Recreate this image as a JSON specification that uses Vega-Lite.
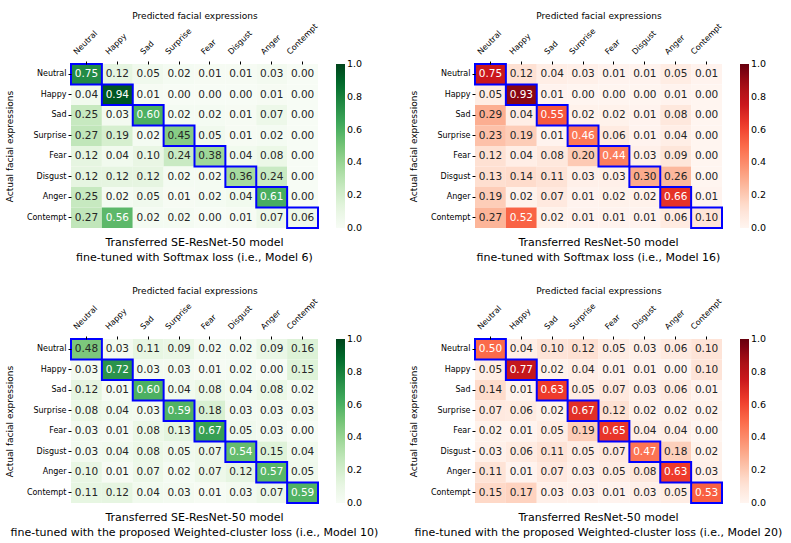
{
  "$schema": "https://vega.github.io/schema/vega-lite/v6.json",
  "padding": {"left": 5, "top": 11, "right": 5, "bottom": 5},
  "background": "white",
  "resolve": {"scale": {"color": "independent"}, "legend": {"color": "independent"}},
  "config": {
    "font": "DejaVu Sans",
    "view": {"stroke": null},
    "axis": {"domain": false, "ticks": true, "tickSize": 3, "tickColor": "#000", "labelFontSize": 8, "labelColor": "#000", "titleFontSize": 9, "titleFontWeight": "normal", "titleColor": "#000", "labelPadding": 2},
    "axisX": {"labelAngle": -45, "labelAlign": "left", "labelBaseline": "middle", "titlePadding": 2, "labelPadding": 8},
    "axisY": {"titlePadding": 12},
    "legend": {"orient": "right", "offset": 18, "gradientLength": 164, "gradientThickness": 9, "labelFontSize": 9.5, "labelColor": "#000", "labelOffset": 5, "labelBaseline": "middle", "gradientStrokeWidth": 0},
    "title": {"orient": "bottom", "frame": "group", "anchor": "middle", "fontSize": 11, "fontWeight": "normal", "color": "#000", "offset": 4, "lineHeight": 15}
  },
  "datasets": {
    "m6": [
      {"actual": "Neutral", "predicted": "Neutral", "value": 0.75}, {"actual": "Neutral", "predicted": "Happy", "value": 0.12}, {"actual": "Neutral", "predicted": "Sad", "value": 0.05}, {"actual": "Neutral", "predicted": "Surprise", "value": 0.02}, {"actual": "Neutral", "predicted": "Fear", "value": 0.01}, {"actual": "Neutral", "predicted": "Disgust", "value": 0.01}, {"actual": "Neutral", "predicted": "Anger", "value": 0.03}, {"actual": "Neutral", "predicted": "Contempt", "value": 0.0},
      {"actual": "Happy", "predicted": "Neutral", "value": 0.04}, {"actual": "Happy", "predicted": "Happy", "value": 0.94}, {"actual": "Happy", "predicted": "Sad", "value": 0.01}, {"actual": "Happy", "predicted": "Surprise", "value": 0.0}, {"actual": "Happy", "predicted": "Fear", "value": 0.0}, {"actual": "Happy", "predicted": "Disgust", "value": 0.0}, {"actual": "Happy", "predicted": "Anger", "value": 0.01}, {"actual": "Happy", "predicted": "Contempt", "value": 0.0},
      {"actual": "Sad", "predicted": "Neutral", "value": 0.25}, {"actual": "Sad", "predicted": "Happy", "value": 0.03}, {"actual": "Sad", "predicted": "Sad", "value": 0.60}, {"actual": "Sad", "predicted": "Surprise", "value": 0.02}, {"actual": "Sad", "predicted": "Fear", "value": 0.02}, {"actual": "Sad", "predicted": "Disgust", "value": 0.01}, {"actual": "Sad", "predicted": "Anger", "value": 0.07}, {"actual": "Sad", "predicted": "Contempt", "value": 0.0},
      {"actual": "Surprise", "predicted": "Neutral", "value": 0.27}, {"actual": "Surprise", "predicted": "Happy", "value": 0.19}, {"actual": "Surprise", "predicted": "Sad", "value": 0.02}, {"actual": "Surprise", "predicted": "Surprise", "value": 0.45}, {"actual": "Surprise", "predicted": "Fear", "value": 0.05}, {"actual": "Surprise", "predicted": "Disgust", "value": 0.01}, {"actual": "Surprise", "predicted": "Anger", "value": 0.02}, {"actual": "Surprise", "predicted": "Contempt", "value": 0.0},
      {"actual": "Fear", "predicted": "Neutral", "value": 0.12}, {"actual": "Fear", "predicted": "Happy", "value": 0.04}, {"actual": "Fear", "predicted": "Sad", "value": 0.10}, {"actual": "Fear", "predicted": "Surprise", "value": 0.24}, {"actual": "Fear", "predicted": "Fear", "value": 0.38}, {"actual": "Fear", "predicted": "Disgust", "value": 0.04}, {"actual": "Fear", "predicted": "Anger", "value": 0.08}, {"actual": "Fear", "predicted": "Contempt", "value": 0.0},
      {"actual": "Disgust", "predicted": "Neutral", "value": 0.12}, {"actual": "Disgust", "predicted": "Happy", "value": 0.12}, {"actual": "Disgust", "predicted": "Sad", "value": 0.12}, {"actual": "Disgust", "predicted": "Surprise", "value": 0.02}, {"actual": "Disgust", "predicted": "Fear", "value": 0.02}, {"actual": "Disgust", "predicted": "Disgust", "value": 0.36}, {"actual": "Disgust", "predicted": "Anger", "value": 0.24}, {"actual": "Disgust", "predicted": "Contempt", "value": 0.0},
      {"actual": "Anger", "predicted": "Neutral", "value": 0.25}, {"actual": "Anger", "predicted": "Happy", "value": 0.02}, {"actual": "Anger", "predicted": "Sad", "value": 0.05}, {"actual": "Anger", "predicted": "Surprise", "value": 0.01}, {"actual": "Anger", "predicted": "Fear", "value": 0.02}, {"actual": "Anger", "predicted": "Disgust", "value": 0.04}, {"actual": "Anger", "predicted": "Anger", "value": 0.61}, {"actual": "Anger", "predicted": "Contempt", "value": 0.0},
      {"actual": "Contempt", "predicted": "Neutral", "value": 0.27}, {"actual": "Contempt", "predicted": "Happy", "value": 0.56}, {"actual": "Contempt", "predicted": "Sad", "value": 0.02}, {"actual": "Contempt", "predicted": "Surprise", "value": 0.02}, {"actual": "Contempt", "predicted": "Fear", "value": 0.0}, {"actual": "Contempt", "predicted": "Disgust", "value": 0.01}, {"actual": "Contempt", "predicted": "Anger", "value": 0.07}, {"actual": "Contempt", "predicted": "Contempt", "value": 0.06}
    ],
    "m16": [
      {"actual": "Neutral", "predicted": "Neutral", "value": 0.75}, {"actual": "Neutral", "predicted": "Happy", "value": 0.12}, {"actual": "Neutral", "predicted": "Sad", "value": 0.04}, {"actual": "Neutral", "predicted": "Surprise", "value": 0.03}, {"actual": "Neutral", "predicted": "Fear", "value": 0.01}, {"actual": "Neutral", "predicted": "Disgust", "value": 0.01}, {"actual": "Neutral", "predicted": "Anger", "value": 0.05}, {"actual": "Neutral", "predicted": "Contempt", "value": 0.01},
      {"actual": "Happy", "predicted": "Neutral", "value": 0.05}, {"actual": "Happy", "predicted": "Happy", "value": 0.93}, {"actual": "Happy", "predicted": "Sad", "value": 0.01}, {"actual": "Happy", "predicted": "Surprise", "value": 0.0}, {"actual": "Happy", "predicted": "Fear", "value": 0.0}, {"actual": "Happy", "predicted": "Disgust", "value": 0.0}, {"actual": "Happy", "predicted": "Anger", "value": 0.01}, {"actual": "Happy", "predicted": "Contempt", "value": 0.0},
      {"actual": "Sad", "predicted": "Neutral", "value": 0.29}, {"actual": "Sad", "predicted": "Happy", "value": 0.04}, {"actual": "Sad", "predicted": "Sad", "value": 0.55}, {"actual": "Sad", "predicted": "Surprise", "value": 0.02}, {"actual": "Sad", "predicted": "Fear", "value": 0.02}, {"actual": "Sad", "predicted": "Disgust", "value": 0.01}, {"actual": "Sad", "predicted": "Anger", "value": 0.08}, {"actual": "Sad", "predicted": "Contempt", "value": 0.0},
      {"actual": "Surprise", "predicted": "Neutral", "value": 0.23}, {"actual": "Surprise", "predicted": "Happy", "value": 0.19}, {"actual": "Surprise", "predicted": "Sad", "value": 0.01}, {"actual": "Surprise", "predicted": "Surprise", "value": 0.46}, {"actual": "Surprise", "predicted": "Fear", "value": 0.06}, {"actual": "Surprise", "predicted": "Disgust", "value": 0.01}, {"actual": "Surprise", "predicted": "Anger", "value": 0.04}, {"actual": "Surprise", "predicted": "Contempt", "value": 0.0},
      {"actual": "Fear", "predicted": "Neutral", "value": 0.12}, {"actual": "Fear", "predicted": "Happy", "value": 0.04}, {"actual": "Fear", "predicted": "Sad", "value": 0.08}, {"actual": "Fear", "predicted": "Surprise", "value": 0.20}, {"actual": "Fear", "predicted": "Fear", "value": 0.44}, {"actual": "Fear", "predicted": "Disgust", "value": 0.03}, {"actual": "Fear", "predicted": "Anger", "value": 0.09}, {"actual": "Fear", "predicted": "Contempt", "value": 0.0},
      {"actual": "Disgust", "predicted": "Neutral", "value": 0.13}, {"actual": "Disgust", "predicted": "Happy", "value": 0.14}, {"actual": "Disgust", "predicted": "Sad", "value": 0.11}, {"actual": "Disgust", "predicted": "Surprise", "value": 0.03}, {"actual": "Disgust", "predicted": "Fear", "value": 0.03}, {"actual": "Disgust", "predicted": "Disgust", "value": 0.30}, {"actual": "Disgust", "predicted": "Anger", "value": 0.26}, {"actual": "Disgust", "predicted": "Contempt", "value": 0.0},
      {"actual": "Anger", "predicted": "Neutral", "value": 0.19}, {"actual": "Anger", "predicted": "Happy", "value": 0.02}, {"actual": "Anger", "predicted": "Sad", "value": 0.07}, {"actual": "Anger", "predicted": "Surprise", "value": 0.01}, {"actual": "Anger", "predicted": "Fear", "value": 0.02}, {"actual": "Anger", "predicted": "Disgust", "value": 0.02}, {"actual": "Anger", "predicted": "Anger", "value": 0.66}, {"actual": "Anger", "predicted": "Contempt", "value": 0.01},
      {"actual": "Contempt", "predicted": "Neutral", "value": 0.27}, {"actual": "Contempt", "predicted": "Happy", "value": 0.52}, {"actual": "Contempt", "predicted": "Sad", "value": 0.02}, {"actual": "Contempt", "predicted": "Surprise", "value": 0.01}, {"actual": "Contempt", "predicted": "Fear", "value": 0.01}, {"actual": "Contempt", "predicted": "Disgust", "value": 0.01}, {"actual": "Contempt", "predicted": "Anger", "value": 0.06}, {"actual": "Contempt", "predicted": "Contempt", "value": 0.10}
    ],
    "m10": [
      {"actual": "Neutral", "predicted": "Neutral", "value": 0.48}, {"actual": "Neutral", "predicted": "Happy", "value": 0.03}, {"actual": "Neutral", "predicted": "Sad", "value": 0.11}, {"actual": "Neutral", "predicted": "Surprise", "value": 0.09}, {"actual": "Neutral", "predicted": "Fear", "value": 0.02}, {"actual": "Neutral", "predicted": "Disgust", "value": 0.02}, {"actual": "Neutral", "predicted": "Anger", "value": 0.09}, {"actual": "Neutral", "predicted": "Contempt", "value": 0.16},
      {"actual": "Happy", "predicted": "Neutral", "value": 0.03}, {"actual": "Happy", "predicted": "Happy", "value": 0.72}, {"actual": "Happy", "predicted": "Sad", "value": 0.03}, {"actual": "Happy", "predicted": "Surprise", "value": 0.03}, {"actual": "Happy", "predicted": "Fear", "value": 0.01}, {"actual": "Happy", "predicted": "Disgust", "value": 0.02}, {"actual": "Happy", "predicted": "Anger", "value": 0.0}, {"actual": "Happy", "predicted": "Contempt", "value": 0.15},
      {"actual": "Sad", "predicted": "Neutral", "value": 0.12}, {"actual": "Sad", "predicted": "Happy", "value": 0.01}, {"actual": "Sad", "predicted": "Sad", "value": 0.60}, {"actual": "Sad", "predicted": "Surprise", "value": 0.04}, {"actual": "Sad", "predicted": "Fear", "value": 0.08}, {"actual": "Sad", "predicted": "Disgust", "value": 0.04}, {"actual": "Sad", "predicted": "Anger", "value": 0.08}, {"actual": "Sad", "predicted": "Contempt", "value": 0.02},
      {"actual": "Surprise", "predicted": "Neutral", "value": 0.08}, {"actual": "Surprise", "predicted": "Happy", "value": 0.04}, {"actual": "Surprise", "predicted": "Sad", "value": 0.03}, {"actual": "Surprise", "predicted": "Surprise", "value": 0.59}, {"actual": "Surprise", "predicted": "Fear", "value": 0.18}, {"actual": "Surprise", "predicted": "Disgust", "value": 0.03}, {"actual": "Surprise", "predicted": "Anger", "value": 0.03}, {"actual": "Surprise", "predicted": "Contempt", "value": 0.03},
      {"actual": "Fear", "predicted": "Neutral", "value": 0.03}, {"actual": "Fear", "predicted": "Happy", "value": 0.01}, {"actual": "Fear", "predicted": "Sad", "value": 0.08}, {"actual": "Fear", "predicted": "Surprise", "value": 0.13}, {"actual": "Fear", "predicted": "Fear", "value": 0.67}, {"actual": "Fear", "predicted": "Disgust", "value": 0.05}, {"actual": "Fear", "predicted": "Anger", "value": 0.03}, {"actual": "Fear", "predicted": "Contempt", "value": 0.0},
      {"actual": "Disgust", "predicted": "Neutral", "value": 0.03}, {"actual": "Disgust", "predicted": "Happy", "value": 0.04}, {"actual": "Disgust", "predicted": "Sad", "value": 0.08}, {"actual": "Disgust", "predicted": "Surprise", "value": 0.05}, {"actual": "Disgust", "predicted": "Fear", "value": 0.07}, {"actual": "Disgust", "predicted": "Disgust", "value": 0.54}, {"actual": "Disgust", "predicted": "Anger", "value": 0.15}, {"actual": "Disgust", "predicted": "Contempt", "value": 0.04},
      {"actual": "Anger", "predicted": "Neutral", "value": 0.10}, {"actual": "Anger", "predicted": "Happy", "value": 0.01}, {"actual": "Anger", "predicted": "Sad", "value": 0.07}, {"actual": "Anger", "predicted": "Surprise", "value": 0.02}, {"actual": "Anger", "predicted": "Fear", "value": 0.07}, {"actual": "Anger", "predicted": "Disgust", "value": 0.12}, {"actual": "Anger", "predicted": "Anger", "value": 0.57}, {"actual": "Anger", "predicted": "Contempt", "value": 0.05},
      {"actual": "Contempt", "predicted": "Neutral", "value": 0.11}, {"actual": "Contempt", "predicted": "Happy", "value": 0.12}, {"actual": "Contempt", "predicted": "Sad", "value": 0.04}, {"actual": "Contempt", "predicted": "Surprise", "value": 0.03}, {"actual": "Contempt", "predicted": "Fear", "value": 0.01}, {"actual": "Contempt", "predicted": "Disgust", "value": 0.03}, {"actual": "Contempt", "predicted": "Anger", "value": 0.07}, {"actual": "Contempt", "predicted": "Contempt", "value": 0.59}
    ],
    "m20": [
      {"actual": "Neutral", "predicted": "Neutral", "value": 0.50}, {"actual": "Neutral", "predicted": "Happy", "value": 0.04}, {"actual": "Neutral", "predicted": "Sad", "value": 0.10}, {"actual": "Neutral", "predicted": "Surprise", "value": 0.12}, {"actual": "Neutral", "predicted": "Fear", "value": 0.05}, {"actual": "Neutral", "predicted": "Disgust", "value": 0.03}, {"actual": "Neutral", "predicted": "Anger", "value": 0.06}, {"actual": "Neutral", "predicted": "Contempt", "value": 0.10},
      {"actual": "Happy", "predicted": "Neutral", "value": 0.05}, {"actual": "Happy", "predicted": "Happy", "value": 0.77}, {"actual": "Happy", "predicted": "Sad", "value": 0.02}, {"actual": "Happy", "predicted": "Surprise", "value": 0.04}, {"actual": "Happy", "predicted": "Fear", "value": 0.01}, {"actual": "Happy", "predicted": "Disgust", "value": 0.01}, {"actual": "Happy", "predicted": "Anger", "value": 0.0}, {"actual": "Happy", "predicted": "Contempt", "value": 0.10},
      {"actual": "Sad", "predicted": "Neutral", "value": 0.14}, {"actual": "Sad", "predicted": "Happy", "value": 0.01}, {"actual": "Sad", "predicted": "Sad", "value": 0.63}, {"actual": "Sad", "predicted": "Surprise", "value": 0.05}, {"actual": "Sad", "predicted": "Fear", "value": 0.07}, {"actual": "Sad", "predicted": "Disgust", "value": 0.03}, {"actual": "Sad", "predicted": "Anger", "value": 0.06}, {"actual": "Sad", "predicted": "Contempt", "value": 0.01},
      {"actual": "Surprise", "predicted": "Neutral", "value": 0.07}, {"actual": "Surprise", "predicted": "Happy", "value": 0.06}, {"actual": "Surprise", "predicted": "Sad", "value": 0.02}, {"actual": "Surprise", "predicted": "Surprise", "value": 0.67}, {"actual": "Surprise", "predicted": "Fear", "value": 0.12}, {"actual": "Surprise", "predicted": "Disgust", "value": 0.02}, {"actual": "Surprise", "predicted": "Anger", "value": 0.02}, {"actual": "Surprise", "predicted": "Contempt", "value": 0.02},
      {"actual": "Fear", "predicted": "Neutral", "value": 0.02}, {"actual": "Fear", "predicted": "Happy", "value": 0.01}, {"actual": "Fear", "predicted": "Sad", "value": 0.05}, {"actual": "Fear", "predicted": "Surprise", "value": 0.19}, {"actual": "Fear", "predicted": "Fear", "value": 0.65}, {"actual": "Fear", "predicted": "Disgust", "value": 0.04}, {"actual": "Fear", "predicted": "Anger", "value": 0.04}, {"actual": "Fear", "predicted": "Contempt", "value": 0.0},
      {"actual": "Disgust", "predicted": "Neutral", "value": 0.03}, {"actual": "Disgust", "predicted": "Happy", "value": 0.06}, {"actual": "Disgust", "predicted": "Sad", "value": 0.11}, {"actual": "Disgust", "predicted": "Surprise", "value": 0.05}, {"actual": "Disgust", "predicted": "Fear", "value": 0.07}, {"actual": "Disgust", "predicted": "Disgust", "value": 0.47}, {"actual": "Disgust", "predicted": "Anger", "value": 0.18}, {"actual": "Disgust", "predicted": "Contempt", "value": 0.02},
      {"actual": "Anger", "predicted": "Neutral", "value": 0.11}, {"actual": "Anger", "predicted": "Happy", "value": 0.01}, {"actual": "Anger", "predicted": "Sad", "value": 0.07}, {"actual": "Anger", "predicted": "Surprise", "value": 0.03}, {"actual": "Anger", "predicted": "Fear", "value": 0.05}, {"actual": "Anger", "predicted": "Disgust", "value": 0.08}, {"actual": "Anger", "predicted": "Anger", "value": 0.63}, {"actual": "Anger", "predicted": "Contempt", "value": 0.03},
      {"actual": "Contempt", "predicted": "Neutral", "value": 0.15}, {"actual": "Contempt", "predicted": "Happy", "value": 0.17}, {"actual": "Contempt", "predicted": "Sad", "value": 0.03}, {"actual": "Contempt", "predicted": "Surprise", "value": 0.03}, {"actual": "Contempt", "predicted": "Fear", "value": 0.01}, {"actual": "Contempt", "predicted": "Disgust", "value": 0.03}, {"actual": "Contempt", "predicted": "Anger", "value": 0.05}, {"actual": "Contempt", "predicted": "Contempt", "value": 0.53}
    ]
  },
  "spacing": 23,
  "vconcat": [
    {
      "spacing": 157,
      "bounds": "flush",
      "resolve": {"scale": {"color": "independent"}, "legend": {"color": "independent"}},
      "hconcat": [
        {
          "width": 247, "height": 164,
          "data": {"name": "m6"},
          "title": {"text": ["Transferred SE-ResNet-50 model", "fine-tuned with Softmax loss (i.e., Model 6)"]},
          "encoding": {
            "x": {"field": "predicted", "type": "nominal", "sort": ["Neutral", "Happy", "Sad", "Surprise", "Fear", "Disgust", "Anger", "Contempt"], "scale": {"paddingInner": 0, "paddingOuter": 0}, "axis": {"orient": "top", "title": "Predicted facial expressions", "labelOffset": {"condition": [{"test": "datum.label==='Neutral'", "value": -11}, {"test": "datum.label==='Happy'", "value": -10}, {"test": "datum.label==='Sad'", "value": -6}, {"test": "datum.label==='Surprise'", "value": -12}, {"test": "datum.label==='Fear'", "value": -7}, {"test": "datum.label==='Disgust'", "value": -11}, {"test": "datum.label==='Anger'", "value": -9}], "value": -14}}},
            "y": {"field": "actual", "type": "nominal", "sort": ["Neutral", "Happy", "Sad", "Surprise", "Fear", "Disgust", "Anger", "Contempt"], "scale": {"paddingInner": 0, "paddingOuter": 0}, "axis": {"title": "Actual facial expressions"}}
          },
          "layer": [
            {"mark": "rect", "encoding": {"color": {"field": "value", "type": "quantitative", "scale": {"domain": [0, 0.125, 0.25, 0.375, 0.5, 0.625, 0.75, 0.875, 1], "range": ["#f7fcf5", "#e5f5e0", "#c7e9c0", "#a1d99b", "#74c476", "#41ab5d", "#238b45", "#006d2c", "#00441b"]}, "legend": {"title": null, "values": [0, 0.2, 0.4, 0.6, 0.8, 1], "format": ".1f", "encoding": {"labels": {"baseline": {"value": "middle"}}}}}}},
            {"mark": {"type": "text", "fontSize": 10.5}, "encoding": {"text": {"field": "value", "format": ".2f"}, "color": {"condition": {"test": "datum.value > 0.51", "value": "white"}, "value": "#262626"}}},
            {"transform": [{"filter": "datum.actual === datum.predicted"}], "mark": {"type": "rect", "fill": null, "stroke": "#0000ff", "strokeWidth": 2}}
          ]
        },
        {
          "width": 247, "height": 164,
          "data": {"name": "m16"},
          "title": {"text": ["Transferred ResNet-50 model", "fine-tuned with Softmax loss (i.e., Model 16)"]},
          "encoding": {
            "x": {"field": "predicted", "type": "nominal", "sort": ["Neutral", "Happy", "Sad", "Surprise", "Fear", "Disgust", "Anger", "Contempt"], "scale": {"paddingInner": 0, "paddingOuter": 0}, "axis": {"orient": "top", "title": "Predicted facial expressions", "labelOffset": {"condition": [{"test": "datum.label==='Neutral'", "value": -11}, {"test": "datum.label==='Happy'", "value": -10}, {"test": "datum.label==='Sad'", "value": -6}, {"test": "datum.label==='Surprise'", "value": -12}, {"test": "datum.label==='Fear'", "value": -7}, {"test": "datum.label==='Disgust'", "value": -11}, {"test": "datum.label==='Anger'", "value": -9}], "value": -14}}},
            "y": {"field": "actual", "type": "nominal", "sort": ["Neutral", "Happy", "Sad", "Surprise", "Fear", "Disgust", "Anger", "Contempt"], "scale": {"paddingInner": 0, "paddingOuter": 0}, "axis": {"title": "Actual facial expressions"}}
          },
          "layer": [
            {"mark": "rect", "encoding": {"color": {"field": "value", "type": "quantitative", "scale": {"domain": [0, 0.125, 0.25, 0.375, 0.5, 0.625, 0.75, 0.875, 1], "range": ["#fff5f0", "#fee0d2", "#fcbba1", "#fc9272", "#fb6a4a", "#ef3b2c", "#cb181d", "#a50f15", "#67000d"]}, "legend": {"title": null, "values": [0, 0.2, 0.4, 0.6, 0.8, 1], "format": ".1f", "encoding": {"labels": {"baseline": {"value": "middle"}}}}}}},
            {"mark": {"type": "text", "fontSize": 10.5}, "encoding": {"text": {"field": "value", "format": ".2f"}, "color": {"condition": {"test": "datum.value > 0.35", "value": "white"}, "value": "#262626"}}},
            {"transform": [{"filter": "datum.actual === datum.predicted"}], "mark": {"type": "rect", "fill": null, "stroke": "#0000ff", "strokeWidth": 2}}
          ]
        }
      ]
    },
    {
      "spacing": 157,
      "bounds": "flush",
      "resolve": {"scale": {"color": "independent"}, "legend": {"color": "independent"}},
      "hconcat": [
        {
          "width": 247, "height": 164,
          "data": {"name": "m10"},
          "title": {"text": ["Transferred SE-ResNet-50 model", "fine-tuned with the proposed Weighted-cluster loss (i.e., Model 10)"]},
          "encoding": {
            "x": {"field": "predicted", "type": "nominal", "sort": ["Neutral", "Happy", "Sad", "Surprise", "Fear", "Disgust", "Anger", "Contempt"], "scale": {"paddingInner": 0, "paddingOuter": 0}, "axis": {"orient": "top", "title": "Predicted facial expressions", "labelOffset": {"condition": [{"test": "datum.label==='Neutral'", "value": -11}, {"test": "datum.label==='Happy'", "value": -10}, {"test": "datum.label==='Sad'", "value": -6}, {"test": "datum.label==='Surprise'", "value": -12}, {"test": "datum.label==='Fear'", "value": -7}, {"test": "datum.label==='Disgust'", "value": -11}, {"test": "datum.label==='Anger'", "value": -9}], "value": -14}}},
            "y": {"field": "actual", "type": "nominal", "sort": ["Neutral", "Happy", "Sad", "Surprise", "Fear", "Disgust", "Anger", "Contempt"], "scale": {"paddingInner": 0, "paddingOuter": 0}, "axis": {"title": "Actual facial expressions"}}
          },
          "layer": [
            {"mark": "rect", "encoding": {"color": {"field": "value", "type": "quantitative", "scale": {"domain": [0, 0.125, 0.25, 0.375, 0.5, 0.625, 0.75, 0.875, 1], "range": ["#f7fcf5", "#e5f5e0", "#c7e9c0", "#a1d99b", "#74c476", "#41ab5d", "#238b45", "#006d2c", "#00441b"]}, "legend": {"title": null, "values": [0, 0.2, 0.4, 0.6, 0.8, 1], "format": ".1f", "encoding": {"labels": {"baseline": {"value": "middle"}}}}}}},
            {"mark": {"type": "text", "fontSize": 10.5}, "encoding": {"text": {"field": "value", "format": ".2f"}, "color": {"condition": {"test": "datum.value > 0.51", "value": "white"}, "value": "#262626"}}},
            {"transform": [{"filter": "datum.actual === datum.predicted"}], "mark": {"type": "rect", "fill": null, "stroke": "#0000ff", "strokeWidth": 2}}
          ]
        },
        {
          "width": 247, "height": 164,
          "data": {"name": "m20"},
          "title": {"text": ["Transferred ResNet-50 model", "fine-tuned with the proposed Weighted-cluster loss (i.e., Model 20)"]},
          "encoding": {
            "x": {"field": "predicted", "type": "nominal", "sort": ["Neutral", "Happy", "Sad", "Surprise", "Fear", "Disgust", "Anger", "Contempt"], "scale": {"paddingInner": 0, "paddingOuter": 0}, "axis": {"orient": "top", "title": "Predicted facial expressions", "labelOffset": {"condition": [{"test": "datum.label==='Neutral'", "value": -11}, {"test": "datum.label==='Happy'", "value": -10}, {"test": "datum.label==='Sad'", "value": -6}, {"test": "datum.label==='Surprise'", "value": -12}, {"test": "datum.label==='Fear'", "value": -7}, {"test": "datum.label==='Disgust'", "value": -11}, {"test": "datum.label==='Anger'", "value": -9}], "value": -14}}},
            "y": {"field": "actual", "type": "nominal", "sort": ["Neutral", "Happy", "Sad", "Surprise", "Fear", "Disgust", "Anger", "Contempt"], "scale": {"paddingInner": 0, "paddingOuter": 0}, "axis": {"title": "Actual facial expressions"}}
          },
          "layer": [
            {"mark": "rect", "encoding": {"color": {"field": "value", "type": "quantitative", "scale": {"domain": [0, 0.125, 0.25, 0.375, 0.5, 0.625, 0.75, 0.875, 1], "range": ["#fff5f0", "#fee0d2", "#fcbba1", "#fc9272", "#fb6a4a", "#ef3b2c", "#cb181d", "#a50f15", "#67000d"]}, "legend": {"title": null, "values": [0, 0.2, 0.4, 0.6, 0.8, 1], "format": ".1f", "encoding": {"labels": {"baseline": {"value": "middle"}}}}}}},
            {"mark": {"type": "text", "fontSize": 10.5}, "encoding": {"text": {"field": "value", "format": ".2f"}, "color": {"condition": {"test": "datum.value > 0.35", "value": "white"}, "value": "#262626"}}},
            {"transform": [{"filter": "datum.actual === datum.predicted"}], "mark": {"type": "rect", "fill": null, "stroke": "#0000ff", "strokeWidth": 2}}
          ]
        }
      ]
    }
  ]
}
